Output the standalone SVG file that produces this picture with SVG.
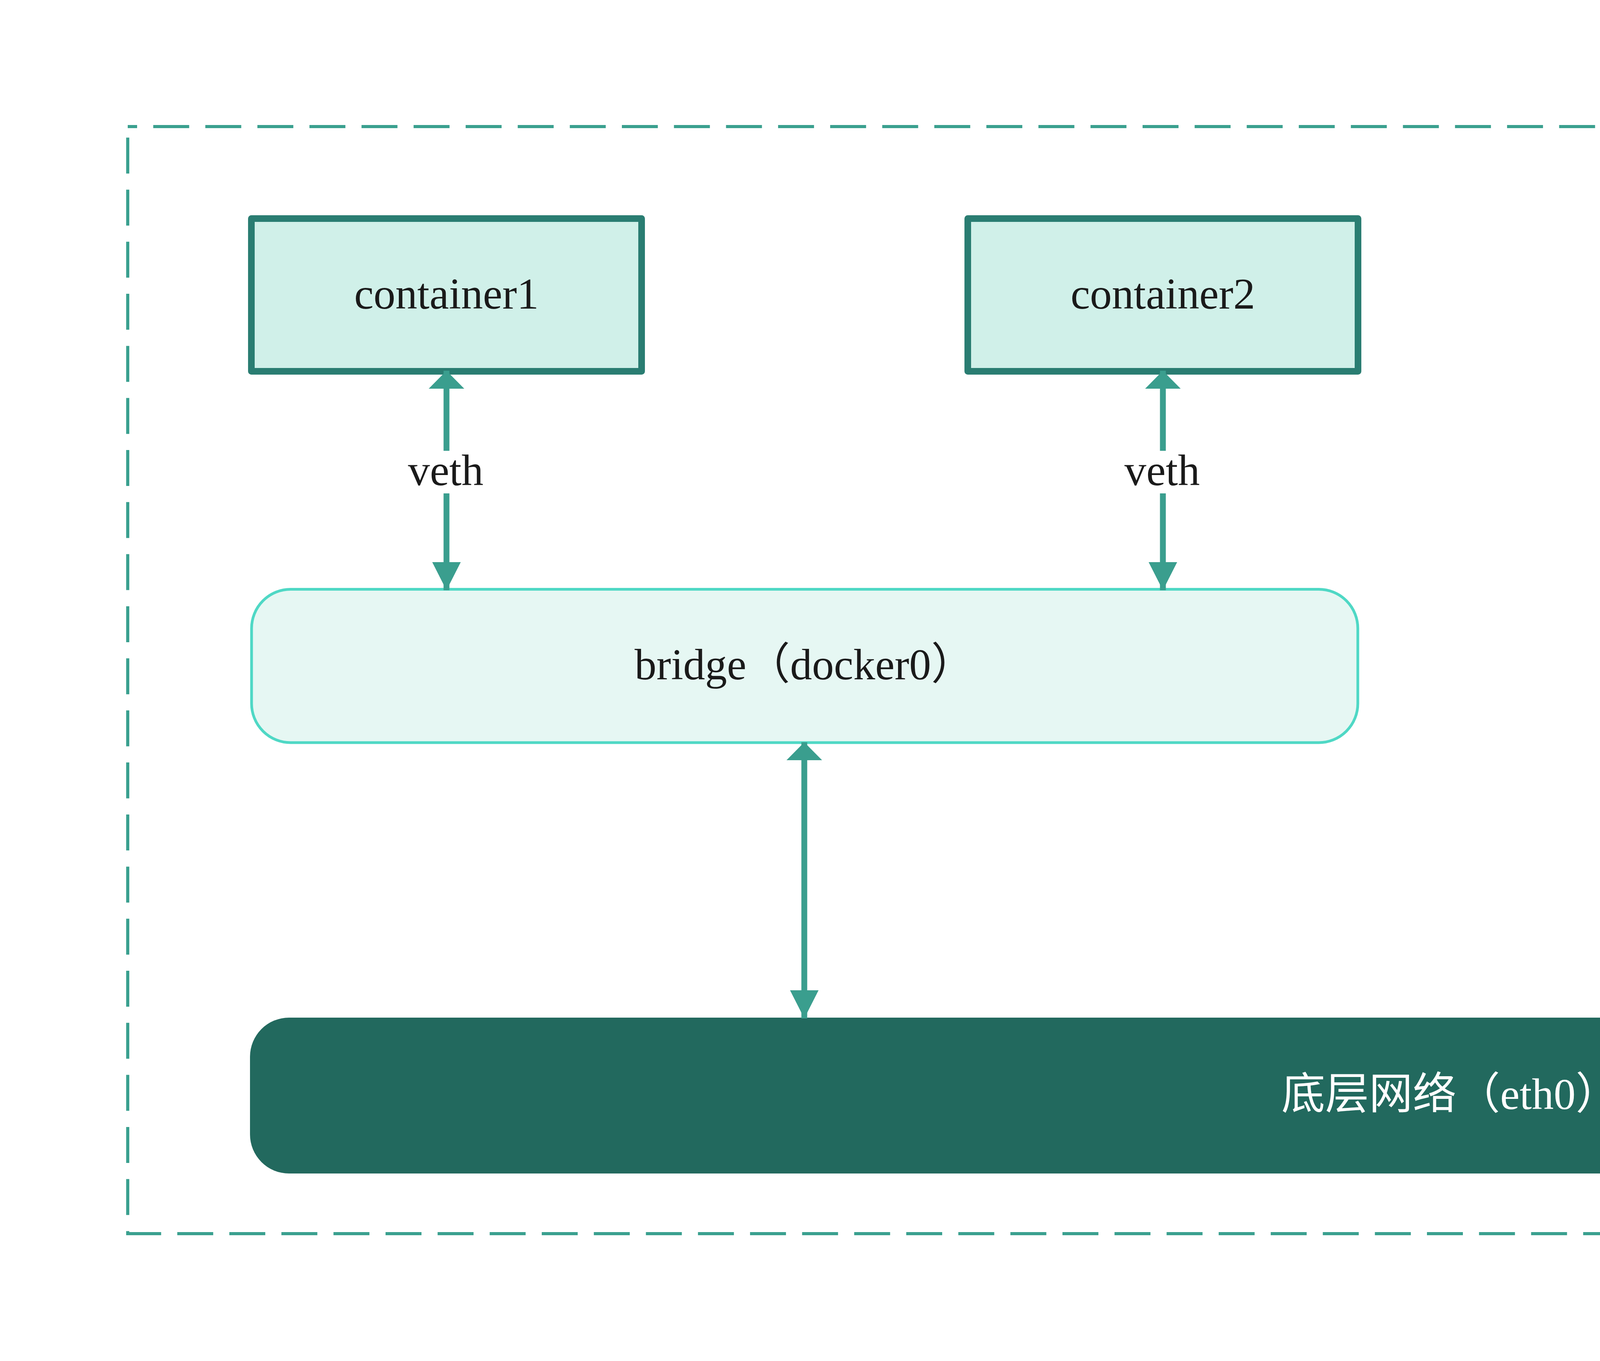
<svg xmlns="http://www.w3.org/2000/svg" width="7576" height="3484" viewBox="0 0 7576 3484">
<style>
  .frame{fill:none;stroke:#3aa08f;stroke-width:8;stroke-dasharray:92 41.3;stroke-dashoffset:68}
  .ctr{fill:#d0f0e9;stroke:#2a7d72;stroke-width:17;stroke-linejoin:round}
  .bridge{fill:#e6f7f3;stroke:#4fd8c5;stroke-width:7}
  .mac{fill:#ffffff;stroke:#3a9e8e;stroke-width:12;stroke-linejoin:round}
  .base{fill:#22695e}
  .lbl{font-family:"Liberation Serif","Noto Sans CJK SC",serif;font-size:112px;fill:#1a1a1a;text-anchor:middle}
  .wlbl{font-family:"Liberation Serif","Noto Sans CJK SC",serif;font-size:112px;fill:#ffffff;text-anchor:middle}
  .ln{fill:none;stroke:#3a9e8e;stroke-width:15}
</style>
<defs>
  <marker id="headW" markerUnits="userSpaceOnUse" viewBox="0 -46 46 92" refX="46" refY="0" markerWidth="46" markerHeight="92" orient="auto" overflow="visible">
    <polygon points="0,-45.5 46,0 0,45.5" fill="#3a9e8e"/>
  </marker>
  <marker id="headN" markerUnits="userSpaceOnUse" viewBox="0 -37 72 74" refX="72" refY="0" markerWidth="72" markerHeight="74" orient="auto" overflow="visible">
    <polygon points="0,-36.5 72,0 0,36.5" fill="#3a9e8e"/>
  </marker>
</defs>
<rect width="7576" height="3484" fill="#ffffff"/>
<path class="frame" d="M327,324 H7250 V3158 H327 Z"/>

<g id="container1">
  <rect class="ctr" x="643.5" y="559.5" width="999" height="391"/>
  <text class="lbl" x="1143" y="790">container1</text>
</g>
<g id="container2">
  <rect class="ctr" x="2477.5" y="559.5" width="999" height="391"/>
  <text class="lbl" x="2977" y="790">container2</text>
</g>
<g id="container3">
  <rect class="ctr" x="4235.5" y="559.5" width="999" height="391"/>
  <text class="lbl" x="4735" y="790">container3</text>
</g>
<g id="container4">
  <rect class="ctr" x="5993.5" y="559.5" width="999" height="391"/>
  <text class="lbl" x="6493" y="790">container4</text>
</g>
<g id="bridge">
  <rect class="bridge" x="644" y="1508.5" width="2832" height="392.5" rx="100" ry="100"/>
  <text class="lbl" x="2060" y="1739">bridge（docker0）</text>
</g>
<g id="macvlan">
  <rect class="mac" x="4578" y="1508" width="2123" height="392"/>
  <text class="lbl" x="5640" y="1739" style="font-size:115px">macvlan/ipvlan</text>
</g>
<g id="underlay">
  <rect class="base" x="640" y="2605" width="6147" height="399" rx="100" ry="100"/>
  <text class="wlbl" x="3713" y="2839">底层网络（eth0）</text>
</g>

<g id="connectors">
  <path class="ln" d="M1143,1154 V949" marker-end="url(#headW)"/>
  <path class="ln" d="M1143,1263 V1511" marker-end="url(#headN)"/>
  <text class="lbl" x="1141" y="1242">veth</text>
  <path class="ln" d="M2977,1154 V949" marker-end="url(#headW)"/>
  <path class="ln" d="M2977,1263 V1511" marker-end="url(#headN)"/>
  <text class="lbl" x="2975" y="1242">veth</text>
  <path class="ln" d="M2059,2200 V1900" marker-end="url(#headW)"/>
  <path class="ln" d="M2059,2200 V2607" marker-end="url(#headN)"/>
  <path class="ln" d="M4735,1508 V949" marker-end="url(#headW)"/>
  <path class="ln" d="M4735,1900 V2609" marker-end="url(#headN)"/>
  <path class="ln" d="M6493,1508 V949" marker-end="url(#headW)"/>
  <path class="ln" d="M6493,1900 V2609" marker-end="url(#headN)"/>
</g>
</svg>
